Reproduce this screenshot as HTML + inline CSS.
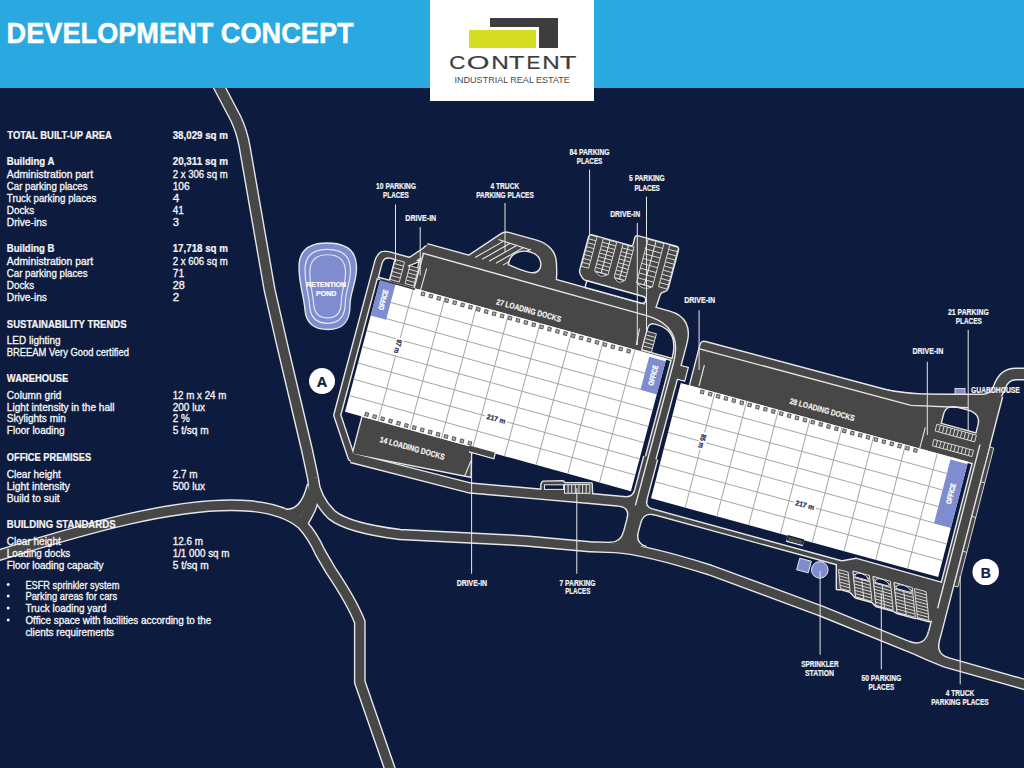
<!DOCTYPE html><html><head><meta charset="utf-8"><title>Development Concept</title>
<style>html,body{margin:0;padding:0;background:#0d1b3e;}body{width:1024px;height:768px;overflow:hidden;}svg{display:block;font-family:"Liberation Sans",sans-serif;}</style></head><body>
<svg width="1024" height="768" viewBox="0 0 1024 768">
<rect x="0" y="0" width="1024" height="768" fill="#0d1b3e"/>
<path d="M423.29,250.25 Q424.58,245.42 429.40,246.76 L671.98,314.29 L683.58,328.94 L680.53,351.96 L677.95,361.62 L413.23,287.91 Z" fill="#474747" stroke="#e6e6e6" stroke-width="2.80" stroke-linejoin="round"/>
<path d="M377.96,257.34 Q379.76,250.58 386.51,252.46 L422.12,262.37 L415.15,288.45 L372.80,276.66 Z" fill="#474747" stroke="#e6e6e6" stroke-width="2.80" stroke-linejoin="round"/>
<path d="M362.50,417.00 L471.10,446.81 L470.40,476.60 L353.00,453.50 Z" fill="#474747" stroke="#e6e6e6" stroke-width="2.80" stroke-linejoin="round"/>
<path d="M466.94,257.21 L501.39,234.15 Q504.72,231.93 508.57,233.00 L536.48,240.77 Q545.15,243.18 550.31,249.03 L550.31,249.03 Q555.47,254.88 555.74,262.87 L555.98,269.74 Q556.12,273.74 555.81,277.72 L555.50,281.87 Z" fill="#474747" stroke="#e6e6e6" stroke-width="2.80" stroke-linejoin="round"/>
<path d="M589.13,237.27 Q589.77,234.86 592.18,235.53 L630.68,246.25 Q633.09,246.92 633.74,244.50 L635.41,238.22 Q636.06,235.81 638.47,236.48 L676.01,246.93 Q678.41,247.60 677.77,250.02 L667.71,287.68 Q667.06,290.10 664.69,290.88 L662.63,291.57 Q660.26,292.35 659.48,294.73 L655.43,307.09 Q654.65,309.47 652.24,308.80 L646.47,307.19 Q644.06,306.52 644.70,304.11 L645.99,299.28 Q646.64,296.86 644.23,296.19 L586.48,280.11 Q584.07,279.44 582.83,277.27 L581.08,274.21 Q579.84,272.04 580.49,269.62 Z" fill="#474747" stroke="#e6e6e6" stroke-width="2.80" stroke-linejoin="round"/>
<path d="M700.54,345.03 Q701.54,341.16 705.40,342.19 L887.54,390.68 Q903.00,394.80 919.00,394.87 L990.00,395.20 L988.92,446.77 L983.93,466.06 L690.07,385.54 Z" fill="#474747" stroke="#e6e6e6" stroke-width="2.80" stroke-linejoin="round"/>
<path d="M837.00,562.50 L856.40,559.00 L949.00,585.00 L942.00,619.50 L929.01,621.03 L917.44,617.85 L915.36,617.88 L897.03,612.85 L893.29,610.62 L875.94,605.85 L872.03,601.87 L855.64,597.37 L850.08,591.55 L840.44,588.90 L837.00,589.00 Z" fill="#474747" stroke="#e6e6e6" stroke-width="2.80" stroke-linejoin="round"/>
<path d="M541.50,490.00 L541.50,484.50 L543.00,481.80 L563.00,481.40 L564.50,483.20 L591.50,483.60 L592.00,494.50 L541.50,491.50 Z" fill="#474747" stroke="#e6e6e6" stroke-width="2.80" stroke-linejoin="round"/>
<path d="M215.5,80 L236,119 Q242,132 244.5,146 L269.6,290 Q282,345 294.5,397 L307,450 L313,478" fill="none" stroke="#e6e6e6" stroke-width="12.20" stroke-linejoin="round" stroke-linecap="butt"/>
<path d="M313,478 Q316,500 332,515 Q348,528 400,534.5 L510,540 L526,541 L590,546.8 L615,547.6 Q645,549.5 710,570 L820,610.6 L917,650 Q930,656 945,662 L1030,686" fill="none" stroke="#e6e6e6" stroke-width="11.40" stroke-linejoin="round" stroke-linecap="butt"/>
<path d="M313,478 Q316,498 309,511 L302,524" fill="none" stroke="#e6e6e6" stroke-width="12.20" stroke-linejoin="round" stroke-linecap="butt"/>
<path d="M-10,558 C80,530 180,500 250,506 C272,508 290,514 302,524 Q313,536 320,552 L330.5,570 Q352,602 359.8,622 L359.8,682 L392,775" fill="none" stroke="#e6e6e6" stroke-width="11.80" stroke-linejoin="round" stroke-linecap="butt"/>
<path d="M427.66,249.38 L410.05,261.09 L389.84,255.46 Q380.60,252.89 378.27,261.58 L337.25,415.15 L351.5,457.7 L470,488 L590,498.5 L634,502.5" fill="none" stroke="#e6e6e6" stroke-width="8.30" stroke-linejoin="round" stroke-linecap="butt"/>
<path d="M425.73,248.85 L668.31,316.39 Q687.09,321.61 681.67,341.90 L626.46,548.59" fill="none" stroke="#e6e6e6" stroke-width="12.40" stroke-linejoin="round" stroke-linecap="butt"/>
<path d="M640.16,508.24 L855.44,567.24" fill="none" stroke="#e6e6e6" stroke-width="6.60" stroke-linejoin="round" stroke-linecap="butt"/>
<path d="M996.38,395.09 L936.03,628.58 L929,655" fill="none" stroke="#e6e6e6" stroke-width="14.30" stroke-linejoin="round" stroke-linecap="butt"/>
<path d="M874.45,393.70 Q908,400.2 935,400.2 L983,400.2 Q995,400 999.5,387 Q1004,374 1016,374 L1030,374" fill="none" stroke="#e6e6e6" stroke-width="13.00" stroke-linejoin="round" stroke-linecap="butt"/>
<path d="M351.5,457.7 L470,488 L590,498.5 L634,502.5" fill="none" stroke="#e6e6e6" stroke-width="11.40" stroke-linejoin="round" stroke-linecap="butt"/>
<path d="M650.71,457.80 L626.46,548.59" fill="none" stroke="#e6e6e6" stroke-width="15.80"/>
<path d="M423.29,250.25 Q424.58,245.42 429.40,246.76 L671.98,314.29 L683.58,328.94 L680.53,351.96 L677.95,361.62 L413.23,287.91 Z" fill="#474747"/>
<path d="M377.96,257.34 Q379.76,250.58 386.51,252.46 L422.12,262.37 L415.15,288.45 L372.80,276.66 Z" fill="#474747"/>
<path d="M362.50,417.00 L471.10,446.81 L470.40,476.60 L353.00,453.50 Z" fill="#474747"/>
<path d="M466.94,257.21 L501.39,234.15 Q504.72,231.93 508.57,233.00 L536.48,240.77 Q545.15,243.18 550.31,249.03 L550.31,249.03 Q555.47,254.88 555.74,262.87 L555.98,269.74 Q556.12,273.74 555.81,277.72 L555.50,281.87 Z" fill="#474747"/>
<path d="M589.13,237.27 Q589.77,234.86 592.18,235.53 L630.68,246.25 Q633.09,246.92 633.74,244.50 L635.41,238.22 Q636.06,235.81 638.47,236.48 L676.01,246.93 Q678.41,247.60 677.77,250.02 L667.71,287.68 Q667.06,290.10 664.69,290.88 L662.63,291.57 Q660.26,292.35 659.48,294.73 L655.43,307.09 Q654.65,309.47 652.24,308.80 L646.47,307.19 Q644.06,306.52 644.70,304.11 L645.99,299.28 Q646.64,296.86 644.23,296.19 L586.48,280.11 Q584.07,279.44 582.83,277.27 L581.08,274.21 Q579.84,272.04 580.49,269.62 Z" fill="#474747"/>
<path d="M700.54,345.03 Q701.54,341.16 705.40,342.19 L887.54,390.68 Q903.00,394.80 919.00,394.87 L990.00,395.20 L988.92,446.77 L983.93,466.06 L690.07,385.54 Z" fill="#474747"/>
<path d="M837.00,562.50 L856.40,559.00 L949.00,585.00 L942.00,619.50 L929.01,621.03 L917.44,617.85 L915.36,617.88 L897.03,612.85 L893.29,610.62 L875.94,605.85 L872.03,601.87 L855.64,597.37 L850.08,591.55 L840.44,588.90 L837.00,589.00 Z" fill="#474747"/>
<path d="M541.50,490.00 L541.50,484.50 L543.00,481.80 L563.00,481.40 L564.50,483.20 L591.50,483.60 L592.00,494.50 L541.50,491.50 Z" fill="#474747"/>
<path d="M215.5,80 L236,119 Q242,132 244.5,146 L269.6,290 Q282,345 294.5,397 L307,450 L313,478" fill="none" stroke="#474747" stroke-width="9.40" stroke-linejoin="round" stroke-linecap="butt"/>
<path d="M313,478 Q316,500 332,515 Q348,528 400,534.5 L510,540 L526,541 L590,546.8 L615,547.6 Q645,549.5 710,570 L820,610.6 L917,650 Q930,656 945,662 L1030,686" fill="none" stroke="#474747" stroke-width="8.60" stroke-linejoin="round" stroke-linecap="butt"/>
<path d="M313,478 Q316,498 309,511 L302,524" fill="none" stroke="#474747" stroke-width="9.40" stroke-linejoin="round" stroke-linecap="butt"/>
<path d="M-10,558 C80,530 180,500 250,506 C272,508 290,514 302,524 Q313,536 320,552 L330.5,570 Q352,602 359.8,622 L359.8,682 L392,775" fill="none" stroke="#474747" stroke-width="9.00" stroke-linejoin="round" stroke-linecap="butt"/>
<path d="M427.66,249.38 L410.05,261.09 L389.84,255.46 Q380.60,252.89 378.27,261.58 L337.25,415.15 L351.5,457.7 L470,488 L590,498.5 L634,502.5" fill="none" stroke="#474747" stroke-width="5.50" stroke-linejoin="round" stroke-linecap="butt"/>
<path d="M425.73,248.85 L668.31,316.39 Q687.09,321.61 681.67,341.90 L626.46,548.59" fill="none" stroke="#474747" stroke-width="9.60" stroke-linejoin="round" stroke-linecap="butt"/>
<path d="M640.16,508.24 L855.44,567.24" fill="none" stroke="#474747" stroke-width="3.80" stroke-linejoin="round" stroke-linecap="butt"/>
<path d="M996.38,395.09 L936.03,628.58 L929,655" fill="none" stroke="#474747" stroke-width="11.50" stroke-linejoin="round" stroke-linecap="butt"/>
<path d="M874.45,393.70 Q908,400.2 935,400.2 L983,400.2 Q995,400 999.5,387 Q1004,374 1016,374 L1030,374" fill="none" stroke="#474747" stroke-width="10.20" stroke-linejoin="round" stroke-linecap="butt"/>
<path d="M351.5,457.7 L470,488 L590,498.5 L634,502.5" fill="none" stroke="#474747" stroke-width="8.60" stroke-linejoin="round" stroke-linecap="butt"/>
<path d="M650.71,457.80 L626.46,548.59" fill="none" stroke="#474747" stroke-width="13"/>
<path d="M422.52,253.14 L645.85,315.32 Q683.39,325.77 673.59,362.48 L635.40,505.42" fill="none" stroke="#e6e6e6" stroke-width="1.40"/>
<line x1="423.48" y1="253.41" x2="414.19" y2="288.18" stroke="#e6e6e6" stroke-width="1.40"/>
<path d="M641.76,349.98 L647.56,328.25 Q649.11,322.46 654.89,324.06 L656.81,324.60 Q679.43,330.90 672.08,358.43 Z" fill="#0d1b3e" stroke="#e6e6e6" stroke-width="1.40"/>
<path d="M681.03,365.59 L688.25,367.60 L684.64,381.12 L677.42,379.11" fill="#474747" stroke="#e6e6e6" stroke-width="1.40"/>
<path d="M678.92,365.73 L687.39,368.08 L684.14,380.25 L675.67,377.90 Z" fill="#474747"/>
<path d="M378.35,277.16 L381.96,263.64 Q383.90,256.40 391.12,258.41 L394.97,259.48 L389.42,280.25 Z" fill="#0d1b3e" stroke="#e6e6e6" stroke-width="1.40"/>
<path d="M408.76,265.92 L419.23,261.57 L416.39,272.19 Z" fill="#0d1b3e" stroke="#e6e6e6" stroke-width="1.40"/>
<line x1="475.15" y1="257.42" x2="503.23" y2="241.37" stroke="#e6e6e6" stroke-width="1.10"/>
<line x1="482.08" y1="259.35" x2="510.16" y2="243.30" stroke="#e6e6e6" stroke-width="1.10"/>
<line x1="489.02" y1="261.28" x2="517.09" y2="245.23" stroke="#e6e6e6" stroke-width="1.10"/>
<line x1="495.95" y1="263.21" x2="524.02" y2="247.16" stroke="#e6e6e6" stroke-width="1.10"/>
<line x1="502.88" y1="265.14" x2="530.95" y2="249.09" stroke="#e6e6e6" stroke-width="1.10"/>
<line x1="498.54" y1="239.55" x2="528.96" y2="249.57" stroke="#e6e6e6" stroke-width="1.10"/>
<path d="M508.40,264.60 C509.57,252.48 520.74,249.36 530.37,252.04 C541.92,255.26 542.23,265.72 539.01,270.01 C535.54,275.27 526.88,272.86 508.40,264.60 Z" fill="#0d1b3e" stroke="#e6e6e6" stroke-width="1.40"/>
<path d="M585.02,287.49 L640.85,303.04 Q644.70,304.11 645.61,300.73 Q646.51,297.35 642.66,296.27 L586.83,280.73 Z" fill="#0d1b3e" stroke="#e6e6e6" stroke-width="1.40"/>
<path d="M395.45,259.61 L404.59,262.16 L399.31,281.96 L390.16,279.41 Z" fill="#474747" stroke="#e6e6e6" stroke-width="0.90"/>
<path d="M394.39,263.57L403.54,266.12M393.33,267.53L402.48,270.08M392.28,271.49L401.42,274.04M391.22,275.45L400.36,278.00" stroke="#e6e6e6" stroke-width="0.90"/>
<path d="M409.85,265.70 L418.52,268.11 L413.75,285.98 L405.08,283.57 Z" fill="#474747" stroke="#e6e6e6" stroke-width="0.90"/>
<path d="M408.90,269.27L417.56,271.69M407.95,272.85L416.61,275.26M406.99,276.42L415.65,278.83M406.04,280.00L414.70,282.41" stroke="#e6e6e6" stroke-width="0.90"/>
<path d="M589.77,234.86 L596.99,236.87 L588.61,268.26 L581.39,266.24 Z" fill="#474747" stroke="#e6e6e6" stroke-width="0.90"/>
<path d="M588.73,238.78L595.95,240.79M587.68,242.70L594.90,244.71M586.63,246.63L593.85,248.64M585.58,250.55L592.80,252.56M584.53,254.47L591.75,256.48M583.49,258.40L590.71,260.41M582.44,262.32L589.66,264.33" stroke="#e6e6e6" stroke-width="0.90"/>
<path d="M603.25,238.61 L609.99,240.48 L601.35,272.84 L594.61,270.96 Z" fill="#474747" stroke="#e6e6e6" stroke-width="0.90"/>
<path d="M602.29,242.20L609.03,244.08M601.33,245.80L608.07,247.67M600.37,249.39L607.11,251.27M599.41,252.99L606.15,254.86M598.45,256.58L605.19,258.46M597.49,260.18L604.23,262.05M596.53,263.77L603.27,265.65M595.57,267.37L602.31,269.24" stroke="#e6e6e6" stroke-width="0.90"/>
<path d="M609.99,240.48 L616.73,242.36 L608.08,274.72 L601.35,272.84 Z" fill="#474747" stroke="#e6e6e6" stroke-width="0.90"/>
<path d="M609.03,244.08L615.77,245.95M608.07,247.67L614.81,249.55M607.11,251.27L613.85,253.14M606.15,254.86L612.89,256.74M605.19,258.46L611.93,260.33M604.23,262.05L610.97,263.93M603.27,265.65L610.01,267.52M602.31,269.24L609.05,271.12" stroke="#e6e6e6" stroke-width="0.90"/>
<path d="M595.44,271.71 Q599.80,278.63 606.99,274.93 Z" fill="#0d1b3e" stroke="#e6e6e6" stroke-width="0.9"/>
<path d="M622.98,244.10 L628.52,245.64 L619.62,278.96 L614.08,277.42 Z" fill="#474747" stroke="#e6e6e6" stroke-width="0.90"/>
<path d="M622.00,247.80L627.53,249.34M621.01,251.51L626.54,253.05M620.02,255.21L625.55,256.75M619.03,258.91L624.56,260.45M618.04,262.61L623.57,264.15M617.05,266.32L622.59,267.86M616.06,270.02L621.60,271.56M615.07,273.72L620.61,275.26" stroke="#e6e6e6" stroke-width="0.90"/>
<path d="M628.52,245.64 L634.05,247.18 L625.15,280.51 L619.62,278.96 Z" fill="#474747" stroke="#e6e6e6" stroke-width="0.90"/>
<path d="M627.53,249.34L633.07,250.89M626.54,253.05L632.08,254.59M625.55,256.75L631.09,258.29M624.56,260.45L630.10,261.99M623.57,264.15L629.11,265.70M622.59,267.86L628.12,269.40M621.60,271.56L627.13,273.10M620.61,275.26L626.14,276.80" stroke="#e6e6e6" stroke-width="0.90"/>
<path d="M614.92,278.17 Q618.07,284.76 624.06,280.72 Z" fill="#0d1b3e" stroke="#e6e6e6" stroke-width="0.9"/>
<path d="M648.09,239.16 L656.03,241.37 L644.42,284.83 L636.48,282.62 Z" fill="#474747" stroke="#e6e6e6" stroke-width="0.90"/>
<path d="M646.80,243.99L654.74,246.20M645.51,248.82L653.45,251.03M644.22,253.65L652.16,255.86M642.93,258.48L650.87,260.69M641.64,263.30L649.58,265.52M640.35,268.13L648.29,270.35M639.06,272.96L647.00,275.17M637.77,277.79L645.71,280.00" stroke="#e6e6e6" stroke-width="0.90"/>
<path d="M656.03,241.37 L663.98,243.58 L652.37,287.04 L644.42,284.83 Z" fill="#474747" stroke="#e6e6e6" stroke-width="0.90"/>
<path d="M654.74,246.20L662.69,248.41M653.45,251.03L661.40,253.24M652.16,255.86L660.11,258.07M650.87,260.69L658.82,262.90M649.58,265.52L657.53,267.73M648.29,270.35L656.24,272.56M647.00,275.17L654.95,277.39M645.71,280.00L653.66,282.21" stroke="#e6e6e6" stroke-width="0.90"/>
<path d="M637.32,283.37 Q642.88,290.63 651.27,287.26 Z" fill="#0d1b3e" stroke="#e6e6e6" stroke-width="0.9"/>
<path d="M669.75,245.19 L678.41,247.60 L667.32,289.13 L658.66,286.72 Z" fill="#474747" stroke="#e6e6e6" stroke-width="0.90"/>
<path d="M668.64,249.34L677.31,251.75M667.53,253.50L676.20,255.91M666.42,257.65L675.09,260.06M665.31,261.80L673.98,264.21M664.20,265.95L672.87,268.37M663.09,270.11L671.76,272.52M661.99,274.26L670.65,276.67M660.88,278.41L669.54,280.83M659.77,282.57L668.43,284.98" stroke="#e6e6e6" stroke-width="0.90"/>
<path d="M646.79,331.15 L656.42,333.83 L651.51,352.18 L641.89,349.50 Z" fill="#474747" stroke="#e6e6e6" stroke-width="0.90"/>
<path d="M645.81,334.82L655.44,337.50M644.83,338.49L654.46,341.17M643.85,342.16L653.47,344.84M642.87,345.83L652.49,348.51" stroke="#e6e6e6" stroke-width="0.90"/>
<path d="M936.85,424.23 L976.43,435.08 L974.68,441.83 L935.10,430.99 Z" fill="#474747" stroke="#e6e6e6" stroke-width="0.90"/>
<path d="M940.45,425.22L938.70,431.97M944.05,426.21L942.30,432.96M947.64,427.19L945.90,433.95M951.24,428.18L949.50,434.93M954.84,429.16L953.10,435.92M958.44,430.15L956.69,436.90M962.04,431.14L960.29,437.89M965.64,432.12L963.89,438.88M969.23,433.11L967.49,439.86M972.83,434.09L971.09,440.85" stroke="#e6e6e6" stroke-width="0.90"/>
<path d="M933.95,439.45 L973.53,450.30 L971.91,456.57 L932.33,445.73 Z" fill="#474747" stroke="#e6e6e6" stroke-width="0.90"/>
<path d="M937.55,440.44L935.93,446.71M941.15,441.43L939.53,447.70M944.74,442.41L943.12,448.68M948.34,443.40L946.72,449.67M951.94,444.38L950.32,450.66M955.54,445.37L953.92,451.64M959.14,446.36L957.52,452.63M962.74,447.34L961.11,453.61M966.33,448.33L964.71,454.60M969.93,449.31L968.31,455.59" stroke="#e6e6e6" stroke-width="0.90"/>
<path d="M941.21,423.36 L943.70,413.71 Q946.20,404.07 959.71,407.77 L967.44,409.89 Q980.95,413.59 977.96,425.17 L975.96,432.89 Z" fill="#0d1b3e" stroke="#e6e6e6" stroke-width="1.40"/>
<path d="M699.54,348.88 L911,405.4 L968,407.8" fill="none" stroke="#e6e6e6" stroke-width="1.40"/>
<line x1="980.03" y1="444.33" x2="937.64" y2="608.36" stroke="#e6e6e6" stroke-width="1.40"/>
<path d="M989.88,447.03 L993.74,448.09 L957.83,587.03 L953.97,585.97 Z" fill="#474747" stroke="#e6e6e6" stroke-width="0.90"/>
<path d="M980.90,481.77L984.77,482.83M971.93,516.50L975.79,517.56M962.95,551.24L966.81,552.29" stroke="#e6e6e6" stroke-width="0.90"/>
<path d="M838.50,569.50 L848.14,572.15 L850.03,591.05 L840.39,588.41 Z" fill="#474747" stroke="#e6e6e6" stroke-width="0.90"/>
<path d="M838.82,572.65L848.46,575.30M839.13,575.80L848.77,578.45M839.45,578.95L849.09,581.60M839.76,582.10L849.40,584.75M840.08,585.25L849.72,587.90" stroke="#e6e6e6" stroke-width="0.90"/>
<path d="M853.00,571.00 L869.39,575.50 L871.98,601.37 L855.59,596.87 Z" fill="#474747" stroke="#e6e6e6" stroke-width="0.90"/>
<path d="M853.32,574.23L869.72,578.73M853.65,577.47L870.04,581.97M853.97,580.70L870.36,585.20M854.29,583.94L870.69,588.44M854.62,587.17L871.01,591.67M854.94,590.40L871.33,594.90M855.26,593.64L871.66,598.14" stroke="#e6e6e6" stroke-width="0.90"/>
<path d="M853.00,571.00 L861.20,573.25 L863.78,599.12 L855.59,596.87 Z" fill="#474747" stroke="#e6e6e6" stroke-width="0.90"/>
<path d="M853.32,574.23L861.52,576.48M853.65,577.47L861.84,579.72M853.97,580.70L862.17,582.95M854.29,583.94L862.49,586.19M854.62,587.17L862.81,589.42M854.94,590.40L863.14,592.65M855.26,593.64L863.46,595.89" stroke="#e6e6e6" stroke-width="0.90"/>
<path d="M854.99,576.87 C854.30,569.90 867.80,573.61 868.49,580.58 Z" fill="#0d1b3e" stroke="#e6e6e6" stroke-width="1"/>
<path d="M873.00,576.50 L890.36,581.26 L893.24,610.12 L875.89,605.36 Z" fill="#474747" stroke="#e6e6e6" stroke-width="0.90"/>
<path d="M873.32,579.71L890.68,584.47M873.64,582.91L891.00,587.68M873.96,586.12L891.32,590.88M874.28,589.32L891.64,594.09M874.60,592.53L891.96,597.30M874.92,595.74L892.28,600.50M875.24,598.94L892.60,603.71M875.56,602.15L892.92,606.91" stroke="#e6e6e6" stroke-width="0.90"/>
<path d="M873.00,576.50 L881.68,578.88 L884.56,607.74 L875.89,605.36 Z" fill="#474747" stroke="#e6e6e6" stroke-width="0.90"/>
<path d="M873.32,579.71L882.00,582.09M873.64,582.91L882.32,585.29M873.96,586.12L882.64,588.50M874.28,589.32L882.96,591.71M874.60,592.53L883.28,594.91M874.92,595.74L883.60,598.12M875.24,598.94L883.92,601.33M875.56,602.15L884.24,604.53" stroke="#e6e6e6" stroke-width="0.90"/>
<path d="M874.99,582.37 C874.30,575.40 888.76,579.38 889.46,586.34 Z" fill="#0d1b3e" stroke="#e6e6e6" stroke-width="1"/>
<path d="M894.00,582.50 L912.32,587.53 L915.31,617.38 L896.99,612.35 Z" fill="#474747" stroke="#e6e6e6" stroke-width="0.90"/>
<path d="M894.33,585.82L912.65,590.85M894.66,589.13L912.99,594.16M895.00,592.45L913.32,597.48M895.33,595.77L913.65,600.80M895.66,599.08L913.98,604.11M895.99,602.40L914.31,607.43M896.32,605.72L914.64,610.75M896.65,609.03L914.98,614.06" stroke="#e6e6e6" stroke-width="0.90"/>
<path d="M894.00,582.50 L903.16,585.01 L906.15,614.87 L896.99,612.35 Z" fill="#474747" stroke="#e6e6e6" stroke-width="0.90"/>
<path d="M894.33,585.82L903.49,588.33M894.66,589.13L903.82,591.65M895.00,592.45L904.16,594.97M895.33,595.77L904.49,598.28M895.66,599.08L904.82,601.60M895.99,602.40L905.15,604.92M896.32,605.72L905.48,608.23M896.65,609.03L905.81,611.55" stroke="#e6e6e6" stroke-width="0.90"/>
<path d="M895.99,588.37 C895.30,581.40 910.73,585.64 911.42,592.61 Z" fill="#0d1b3e" stroke="#e6e6e6" stroke-width="1"/>
<path d="M914.50,588.50 L926.07,591.68 L928.96,620.53 L917.39,617.36 Z" fill="#474747" stroke="#e6e6e6" stroke-width="0.90"/>
<path d="M914.82,591.71L926.39,594.88M915.14,594.91L926.71,598.09M915.46,598.12L927.03,601.30M915.78,601.32L927.35,604.50M916.10,604.53L927.68,607.71M916.42,607.74L928.00,610.91M916.74,610.94L928.32,614.12M917.06,614.15L928.64,617.33" stroke="#e6e6e6" stroke-width="0.90"/>
<rect x="544.5" y="484.8" width="19" height="4.6" fill="#0d1b3e" stroke="#e6e6e6" stroke-width="1"/>
<rect x="564.5" y="484.6" width="25.3" height="8.7" fill="#474747" stroke="#e6e6e6" stroke-width="1"/>
<path d="M568.1,484.6V493.3M571.7,484.6V493.3M575.3,484.6V493.3M579.0,484.6V493.3M582.6,484.6V493.3M586.2,484.6V493.3" stroke="#e6e6e6" stroke-width="1"/>
<rect x="955" y="388.5" width="10" height="5.5" fill="#7f8dd0" stroke="#e6e6e6" stroke-width="0.9"/>
<rect x="798" y="559.5" width="12" height="12" transform="rotate(15 804 565.5)" fill="#7f8dd0" stroke="#e6e6e6" stroke-width="0.9"/>
<circle cx="819.8" cy="569.9" r="8.3" fill="#7f8dd0" stroke="#e6e6e6" stroke-width="1"/>
<g transform="matrix(0.96263,0.26801,-0.25799,0.96584,380.50,278.80)">
<rect x="0" y="0" width="297.0" height="137.6" fill="#ffffff"/>
<path d="M34.4,0V137.6M67.2,0V137.6M100.1,0V137.6M132.9,0V137.6M165.8,0V137.6M198.6,0V137.6M231.5,0V137.6M264.3,0V137.6M0,20.0H297.0M0,36.8H297.0M0,53.6H297.0M0,70.4H297.0M0,87.2H297.0M0,104.0H297.0M0,120.8H297.0" stroke="#a3a3a3" stroke-width="0.9" fill="none"/>
<rect x="0" y="0" width="16" height="38" fill="#7f8dd0"/>
<rect x="280" y="3" width="17" height="34" fill="#7f8dd0"/>
<path d="M0,0.8H36" stroke="#333" stroke-width="1.6"/>
<rect x="43.4" y="1.6" width="3.2" height="3.2" fill="#b0b0b0" stroke="#5a5a5a" stroke-width="1"/>
<rect x="51.6" y="1.6" width="3.2" height="3.2" fill="#b0b0b0" stroke="#5a5a5a" stroke-width="1"/>
<rect x="59.8" y="1.6" width="3.2" height="3.2" fill="#b0b0b0" stroke="#5a5a5a" stroke-width="1"/>
<rect x="68.0" y="1.6" width="3.2" height="3.2" fill="#b0b0b0" stroke="#5a5a5a" stroke-width="1"/>
<rect x="76.3" y="1.6" width="3.2" height="3.2" fill="#b0b0b0" stroke="#5a5a5a" stroke-width="1"/>
<rect x="84.5" y="1.6" width="3.2" height="3.2" fill="#b0b0b0" stroke="#5a5a5a" stroke-width="1"/>
<rect x="92.7" y="1.6" width="3.2" height="3.2" fill="#b0b0b0" stroke="#5a5a5a" stroke-width="1"/>
<rect x="100.9" y="1.6" width="3.2" height="3.2" fill="#b0b0b0" stroke="#5a5a5a" stroke-width="1"/>
<rect x="109.1" y="1.6" width="3.2" height="3.2" fill="#b0b0b0" stroke="#5a5a5a" stroke-width="1"/>
<rect x="117.3" y="1.6" width="3.2" height="3.2" fill="#b0b0b0" stroke="#5a5a5a" stroke-width="1"/>
<rect x="125.6" y="1.6" width="3.2" height="3.2" fill="#b0b0b0" stroke="#5a5a5a" stroke-width="1"/>
<rect x="133.8" y="1.6" width="3.2" height="3.2" fill="#b0b0b0" stroke="#5a5a5a" stroke-width="1"/>
<rect x="142.0" y="1.6" width="3.2" height="3.2" fill="#b0b0b0" stroke="#5a5a5a" stroke-width="1"/>
<rect x="150.2" y="1.6" width="3.2" height="3.2" fill="#b0b0b0" stroke="#5a5a5a" stroke-width="1"/>
<rect x="158.4" y="1.6" width="3.2" height="3.2" fill="#b0b0b0" stroke="#5a5a5a" stroke-width="1"/>
<rect x="166.6" y="1.6" width="3.2" height="3.2" fill="#b0b0b0" stroke="#5a5a5a" stroke-width="1"/>
<rect x="174.8" y="1.6" width="3.2" height="3.2" fill="#b0b0b0" stroke="#5a5a5a" stroke-width="1"/>
<rect x="183.1" y="1.6" width="3.2" height="3.2" fill="#b0b0b0" stroke="#5a5a5a" stroke-width="1"/>
<rect x="191.3" y="1.6" width="3.2" height="3.2" fill="#b0b0b0" stroke="#5a5a5a" stroke-width="1"/>
<rect x="199.5" y="1.6" width="3.2" height="3.2" fill="#b0b0b0" stroke="#5a5a5a" stroke-width="1"/>
<rect x="207.7" y="1.6" width="3.2" height="3.2" fill="#b0b0b0" stroke="#5a5a5a" stroke-width="1"/>
<rect x="215.9" y="1.6" width="3.2" height="3.2" fill="#b0b0b0" stroke="#5a5a5a" stroke-width="1"/>
<rect x="224.1" y="1.6" width="3.2" height="3.2" fill="#b0b0b0" stroke="#5a5a5a" stroke-width="1"/>
<rect x="232.4" y="1.6" width="3.2" height="3.2" fill="#b0b0b0" stroke="#5a5a5a" stroke-width="1"/>
<rect x="240.6" y="1.6" width="3.2" height="3.2" fill="#b0b0b0" stroke="#5a5a5a" stroke-width="1"/>
<rect x="248.8" y="1.6" width="3.2" height="3.2" fill="#b0b0b0" stroke="#5a5a5a" stroke-width="1"/>
<rect x="257.0" y="1.6" width="3.2" height="3.2" fill="#b0b0b0" stroke="#5a5a5a" stroke-width="1"/>
<rect x="20.1" y="132.8" width="3.2" height="3.2" fill="#b0b0b0" stroke="#5a5a5a" stroke-width="1"/>
<rect x="28.3" y="132.8" width="3.2" height="3.2" fill="#b0b0b0" stroke="#5a5a5a" stroke-width="1"/>
<rect x="36.6" y="132.8" width="3.2" height="3.2" fill="#b0b0b0" stroke="#5a5a5a" stroke-width="1"/>
<rect x="44.8" y="132.8" width="3.2" height="3.2" fill="#b0b0b0" stroke="#5a5a5a" stroke-width="1"/>
<rect x="53.1" y="132.8" width="3.2" height="3.2" fill="#b0b0b0" stroke="#5a5a5a" stroke-width="1"/>
<rect x="61.3" y="132.8" width="3.2" height="3.2" fill="#b0b0b0" stroke="#5a5a5a" stroke-width="1"/>
<rect x="69.5" y="132.8" width="3.2" height="3.2" fill="#b0b0b0" stroke="#5a5a5a" stroke-width="1"/>
<rect x="77.8" y="132.8" width="3.2" height="3.2" fill="#b0b0b0" stroke="#5a5a5a" stroke-width="1"/>
<rect x="86.0" y="132.8" width="3.2" height="3.2" fill="#b0b0b0" stroke="#5a5a5a" stroke-width="1"/>
<rect x="94.2" y="132.8" width="3.2" height="3.2" fill="#b0b0b0" stroke="#5a5a5a" stroke-width="1"/>
<rect x="102.5" y="132.8" width="3.2" height="3.2" fill="#b0b0b0" stroke="#5a5a5a" stroke-width="1"/>
<rect x="110.7" y="132.8" width="3.2" height="3.2" fill="#b0b0b0" stroke="#5a5a5a" stroke-width="1"/>
<rect x="119.0" y="132.8" width="3.2" height="3.2" fill="#b0b0b0" stroke="#5a5a5a" stroke-width="1"/>
<rect x="127.2" y="132.8" width="3.2" height="3.2" fill="#b0b0b0" stroke="#5a5a5a" stroke-width="1"/>
<text x="8.00" y="19.50" font-size="7.40" font-weight="bold" fill="#ffffff" textLength="20.50" lengthAdjust="spacingAndGlyphs" stroke="#ffffff" stroke-width="0.35" transform="rotate(-90 8 19.5)" text-anchor="middle" dy="2.7">OFFICE</text>
<text x="288.50" y="20.00" font-size="7.40" font-weight="bold" fill="#ffffff" textLength="20.50" lengthAdjust="spacingAndGlyphs" stroke="#ffffff" stroke-width="0.35" transform="rotate(-90 288.5 20)" text-anchor="middle" dy="2.7">OFFICE</text>
</g>
<g transform="matrix(0.96538,0.26454,-0.24937,0.96485,680.80,383.00)">
<rect x="0" y="0" width="297.5" height="119.5" fill="#ffffff"/>
<path d="M35.4,0V119.5M68.3,0V119.5M101.2,0V119.5M134.1,0V119.5M167.0,0V119.5M199.9,0V119.5M232.8,0V119.5M265.7,0V119.5M0,17.0H297.5M0,34.1H297.5M0,51.2H297.5M0,68.2H297.5M0,85.3H297.5M0,102.4H297.5" stroke="#a3a3a3" stroke-width="0.9" fill="none"/>
<rect x="280" y="2.5" width="17.5" height="66" fill="#7f8dd0"/>
<rect x="21.4" y="1.4" width="3.2" height="3.2" fill="#b0b0b0" stroke="#5a5a5a" stroke-width="1"/>
<rect x="29.6" y="1.4" width="3.2" height="3.2" fill="#b0b0b0" stroke="#5a5a5a" stroke-width="1"/>
<rect x="37.8" y="1.4" width="3.2" height="3.2" fill="#b0b0b0" stroke="#5a5a5a" stroke-width="1"/>
<rect x="45.9" y="1.4" width="3.2" height="3.2" fill="#b0b0b0" stroke="#5a5a5a" stroke-width="1"/>
<rect x="54.1" y="1.4" width="3.2" height="3.2" fill="#b0b0b0" stroke="#5a5a5a" stroke-width="1"/>
<rect x="62.3" y="1.4" width="3.2" height="3.2" fill="#b0b0b0" stroke="#5a5a5a" stroke-width="1"/>
<rect x="70.5" y="1.4" width="3.2" height="3.2" fill="#b0b0b0" stroke="#5a5a5a" stroke-width="1"/>
<rect x="78.6" y="1.4" width="3.2" height="3.2" fill="#b0b0b0" stroke="#5a5a5a" stroke-width="1"/>
<rect x="86.8" y="1.4" width="3.2" height="3.2" fill="#b0b0b0" stroke="#5a5a5a" stroke-width="1"/>
<rect x="95.0" y="1.4" width="3.2" height="3.2" fill="#b0b0b0" stroke="#5a5a5a" stroke-width="1"/>
<rect x="103.2" y="1.4" width="3.2" height="3.2" fill="#b0b0b0" stroke="#5a5a5a" stroke-width="1"/>
<rect x="111.4" y="1.4" width="3.2" height="3.2" fill="#b0b0b0" stroke="#5a5a5a" stroke-width="1"/>
<rect x="119.5" y="1.4" width="3.2" height="3.2" fill="#b0b0b0" stroke="#5a5a5a" stroke-width="1"/>
<rect x="127.7" y="1.4" width="3.2" height="3.2" fill="#b0b0b0" stroke="#5a5a5a" stroke-width="1"/>
<rect x="135.9" y="1.4" width="3.2" height="3.2" fill="#b0b0b0" stroke="#5a5a5a" stroke-width="1"/>
<rect x="144.1" y="1.4" width="3.2" height="3.2" fill="#b0b0b0" stroke="#5a5a5a" stroke-width="1"/>
<rect x="152.2" y="1.4" width="3.2" height="3.2" fill="#b0b0b0" stroke="#5a5a5a" stroke-width="1"/>
<rect x="160.4" y="1.4" width="3.2" height="3.2" fill="#b0b0b0" stroke="#5a5a5a" stroke-width="1"/>
<rect x="168.6" y="1.4" width="3.2" height="3.2" fill="#b0b0b0" stroke="#5a5a5a" stroke-width="1"/>
<rect x="176.8" y="1.4" width="3.2" height="3.2" fill="#b0b0b0" stroke="#5a5a5a" stroke-width="1"/>
<rect x="185.0" y="1.4" width="3.2" height="3.2" fill="#b0b0b0" stroke="#5a5a5a" stroke-width="1"/>
<rect x="193.1" y="1.4" width="3.2" height="3.2" fill="#b0b0b0" stroke="#5a5a5a" stroke-width="1"/>
<rect x="201.3" y="1.4" width="3.2" height="3.2" fill="#b0b0b0" stroke="#5a5a5a" stroke-width="1"/>
<rect x="209.5" y="1.4" width="3.2" height="3.2" fill="#b0b0b0" stroke="#5a5a5a" stroke-width="1"/>
<rect x="217.7" y="1.4" width="3.2" height="3.2" fill="#b0b0b0" stroke="#5a5a5a" stroke-width="1"/>
<rect x="225.8" y="1.4" width="3.2" height="3.2" fill="#b0b0b0" stroke="#5a5a5a" stroke-width="1"/>
<rect x="234.0" y="1.4" width="3.2" height="3.2" fill="#b0b0b0" stroke="#5a5a5a" stroke-width="1"/>
<rect x="242.2" y="1.4" width="3.2" height="3.2" fill="#b0b0b0" stroke="#5a5a5a" stroke-width="1"/>
<text x="288.80" y="35.60" font-size="7.40" font-weight="bold" fill="#ffffff" textLength="21.00" lengthAdjust="spacingAndGlyphs" stroke="#ffffff" stroke-width="0.35" transform="rotate(-90 288.8 35.6)" text-anchor="middle" dy="2.7">OFFICE</text>
</g>
<g transform="matrix(0.96263,0.26801,-0.25799,0.96584,380.50,278.80)"><text x="118.00" y="-6.50" font-size="8.20" font-weight="bold" fill="#f2f2f2" textLength="67.00" lengthAdjust="spacingAndGlyphs" stroke="#f2f2f2" stroke-width="0.22">27 LOADING DOCKS</text></g>
<g transform="matrix(0.96263,0.26801,-0.25799,0.96584,380.50,278.80)"><text x="41.00" y="157.50" font-size="8.20" font-weight="bold" fill="#f2f2f2" textLength="67.00" lengthAdjust="spacingAndGlyphs" stroke="#f2f2f2" stroke-width="0.22">14 LOADING DOCKS</text></g>
<g transform="matrix(0.96538,0.26454,-0.24937,0.96485,680.80,383.00)"><text x="110.00" y="-9.00" font-size="8.20" font-weight="bold" fill="#f2f2f2" textLength="67.00" lengthAdjust="spacingAndGlyphs" stroke="#f2f2f2" stroke-width="0.22">28 LOADING DOCKS</text></g>
<g transform="matrix(0.96263,0.26801,-0.25799,0.96584,380.50,278.80) translate(34.35,60.50) rotate(90.0)"><rect x="-9.00" y="-4" width="18.00" height="8" fill="#ffffff"/><text x="0.00" y="2.50" font-size="7.20" font-weight="bold" fill="#1b2650" textLength="14.00" lengthAdjust="spacingAndGlyphs" text-anchor="middle" stroke="#1b2650" stroke-width="0.22">97 m</text></g>
<g transform="matrix(0.96263,0.26801,-0.25799,0.96584,380.50,278.80) translate(148.00,104.00) rotate(0.0)"><rect x="-11.50" y="-4" width="23.00" height="8" fill="#ffffff"/><text x="0.00" y="2.50" font-size="7.20" font-weight="bold" fill="#1b2650" textLength="19.00" lengthAdjust="spacingAndGlyphs" text-anchor="middle" stroke="#1b2650" stroke-width="0.22">217 m</text></g>
<g transform="matrix(0.96538,0.26454,-0.24937,0.96485,680.80,383.00) translate(35.40,50.50) rotate(90.0)"><rect x="-9.00" y="-4" width="18.00" height="8" fill="#ffffff"/><text x="0.00" y="2.50" font-size="7.20" font-weight="bold" fill="#1b2650" textLength="14.00" lengthAdjust="spacingAndGlyphs" text-anchor="middle" stroke="#1b2650" stroke-width="0.22">85 m</text></g>
<g transform="matrix(0.96538,0.26454,-0.24937,0.96485,680.80,383.00) translate(150.60,85.30) rotate(0.0)"><rect x="-11.50" y="-4" width="23.00" height="8" fill="#ffffff"/><text x="0.00" y="2.50" font-size="7.20" font-weight="bold" fill="#1b2650" textLength="19.00" lengthAdjust="spacingAndGlyphs" text-anchor="middle" stroke="#1b2650" stroke-width="0.22">217 m</text></g>
<path d="M909.01,640.60 L908.33,642.27 L925.04,649.05 L929.69,631.62 L927.95,631.16 Q923.83,646.62 909.01,640.60 Z" fill="#474747"/>
<path d="M908.74,641.25 Q924.30,647.57 928.62,631.34" fill="none" stroke="#e6e6e6" stroke-width="1.40"/>
<path d="M940.08,641.18 L938.34,640.72 L934.50,655.01 L948.76,659.01 L949.24,657.28 Q936.73,653.74 940.08,641.18 Z" fill="#474747"/>
<path d="M939.40,641.00 Q935.88,654.23 949.05,657.95" fill="none" stroke="#e6e6e6" stroke-width="1.40"/>
<path d="M633.97,489.85 L635.71,490.31 L633.56,498.60 L625.03,497.77 L625.19,495.98 Q632.16,496.61 633.97,489.85 Z" fill="#474747"/>
<path d="M634.65,490.03 Q632.69,497.36 625.13,496.67" fill="none" stroke="#e6e6e6" stroke-width="1.40"/>
<path d="M647.71,499.63 L645.97,499.17 L643.67,507.68 L652.18,509.98 L652.65,508.25 Q645.90,506.40 647.71,499.63 Z" fill="#474747"/>
<path d="M647.03,499.45 Q645.05,506.89 652.47,508.92" fill="none" stroke="#e6e6e6" stroke-width="1.40"/>
<path d="M626.34,518.41 L628.08,518.88 L631.45,506.20 L618.39,505.00 L618.22,506.79 Q629.18,507.79 626.34,518.41 Z" fill="#474747"/>
<path d="M627.02,518.59 Q630.07,507.16 618.29,506.09" fill="none" stroke="#e6e6e6" stroke-width="1.40"/>
<path d="M622.86,531.43 L624.60,531.89 L621.45,543.97 L608.97,543.51 L609.03,541.71 Q620.02,542.06 622.86,531.43 Z" fill="#474747"/>
<path d="M623.54,531.61 Q620.56,542.78 609.01,542.41" fill="none" stroke="#e6e6e6" stroke-width="1.40"/>
<path d="M641.36,523.40 L639.62,522.94 L642.91,510.53 L655.28,513.94 L654.81,515.68 Q644.20,512.77 641.36,523.40 Z" fill="#474747"/>
<path d="M640.69,523.22 Q643.71,511.91 654.99,515.01" fill="none" stroke="#e6e6e6" stroke-width="1.40"/>
<path d="M639.03,532.14 L637.29,531.68 L633.96,544.03 L646.26,547.55 L646.76,545.82 Q636.19,542.77 639.03,532.14 Z" fill="#474747"/>
<path d="M638.35,531.96 Q635.33,543.25 646.56,546.49" fill="none" stroke="#e6e6e6" stroke-width="1.40"/>
<path d="M284.5,508.6 L296,524 L311,500 L309.8,493 L307.8,483.5 Q301.5,510 284.5,508.6 Z" fill="#474747"/>
<path d="M285.5,509.2 Q300.8,510.8 307.4,484" fill="none" stroke="#e6e6e6" stroke-width="1.40"/>
<line x1="426.70" y1="268.40" x2="420.60" y2="290.00" stroke="#e6e6e6" stroke-width="1.10"/>
<line x1="639.60" y1="328.50" x2="636.20" y2="345.00" stroke="#e6e6e6" stroke-width="1.10"/>
<line x1="704.40" y1="365.00" x2="699.00" y2="386.00" stroke="#e6e6e6" stroke-width="1.10"/>
<line x1="925.30" y1="427.30" x2="919.80" y2="448.40" stroke="#e6e6e6" stroke-width="1.10"/>
<line x1="470.90" y1="461.00" x2="464.60" y2="476.20" stroke="#e6e6e6" stroke-width="1.10"/>
<path d="M788.08,535.86 L803.53,540.10 L802.16,545.40 L786.71,541.17 Z" fill="#474747" stroke="#e6e6e6" stroke-width="1.40"/>
<path d="M787.78,535.06 L804.19,539.55 L802.82,544.86 L786.40,540.36 Z" fill="#0d1b3e"/>
<path d="M788.87,536.80 L802.39,540.51 L801.37,544.46 L787.85,540.76 Z" fill="#474747"/>
<path d="M471.10,446.81 L495.17,453.51 L493.78,458.73 L469.71,452.03 Z" fill="#474747" stroke="#e6e6e6" stroke-width="1.40"/>
<path d="M469.39,445.50 L494.70,452.55 L493.28,457.86 L467.97,450.81 Z" fill="#474747"/>
<path d="M632.8,543.6 L641.2,545.0 L640.6,548.0 L632.8,546.8 Z" fill="#474747"/>
<path d="M327,243 C345,243 356,250 356.5,266 C357,282 350,292 350,305 C350,322 343,329.5 328,329.5 C313,329.5 306,322 305,310 C304,296 299,285 299,267 C299,250 310,243 327,243 Z" fill="#7f8dd0" stroke="#e6e6e6" stroke-width="1.4"/>
<path d="M327,243 C345,243 356,250 356.5,266 C357,282 350,292 350,305 C350,322 343,329.5 328,329.5 C313,329.5 306,322 305,310 C304,296 299,285 299,267 C299,250 310,243 327,243 Z" fill="none" stroke="#e6e6e6" stroke-width="1.2" vector-effect="non-scaling-stroke" transform="translate(327.6,286.6) scale(0.790,0.855) translate(-327.6,-286.6)"/>
<path d="M327,243 C345,243 356,250 356.5,266 C357,282 350,292 350,305 C350,322 343,329.5 328,329.5 C313,329.5 306,322 305,310 C304,296 299,285 299,267 C299,250 310,243 327,243 Z" fill="none" stroke="#e6e6e6" stroke-width="1.2" vector-effect="non-scaling-stroke" transform="translate(327.6,286.6) scale(0.620,0.730) translate(-327.6,-286.6)"/>
<text x="326.20" y="287.10" font-size="7.40" font-weight="bold" fill="#ffffff" textLength="39.70" lengthAdjust="spacingAndGlyphs" text-anchor="middle" stroke="#ffffff" stroke-width="0.22">RETENTION</text>
<text x="326.20" y="296.00" font-size="7.40" font-weight="bold" fill="#ffffff" textLength="20.30" lengthAdjust="spacingAndGlyphs" text-anchor="middle" stroke="#ffffff" stroke-width="0.22">POND</text>
<circle cx="322" cy="381.1" r="13" fill="#ffffff"/>
<text x="322.10" y="386.60" font-size="14.50" font-weight="bold" fill="#0d1b3e" text-anchor="middle" stroke="#0d1b3e" stroke-width="0.22">A</text>
<circle cx="985.7" cy="571.9" r="13.2" fill="#ffffff"/>
<text x="985.70" y="577.70" font-size="14.00" font-weight="bold" fill="#0d1b3e" text-anchor="middle" stroke="#0d1b3e" stroke-width="0.22">B</text>
<line x1="395.5" y1="204.5" x2="395.5" y2="262.0" stroke="#e6e6e6" stroke-width="1"/>
<line x1="420.2" y1="227.0" x2="420.2" y2="275.4" stroke="#e6e6e6" stroke-width="1"/>
<line x1="505.0" y1="203.0" x2="505.0" y2="251.6" stroke="#e6e6e6" stroke-width="1"/>
<line x1="589.6" y1="169.7" x2="589.6" y2="236.0" stroke="#e6e6e6" stroke-width="1"/>
<line x1="646.5" y1="196.6" x2="646.5" y2="333.0" stroke="#e6e6e6" stroke-width="1"/>
<line x1="637.3" y1="223.0" x2="637.3" y2="345.0" stroke="#e6e6e6" stroke-width="1"/>
<line x1="699.1" y1="310.2" x2="699.1" y2="370.0" stroke="#e6e6e6" stroke-width="1"/>
<line x1="968.2" y1="329.8" x2="968.2" y2="431.0" stroke="#e6e6e6" stroke-width="1"/>
<line x1="927.3" y1="361.8" x2="927.3" y2="435.0" stroke="#e6e6e6" stroke-width="1"/>
<line x1="471.6" y1="461.0" x2="471.6" y2="573.7" stroke="#e6e6e6" stroke-width="1"/>
<line x1="576.8" y1="488.0" x2="576.8" y2="573.7" stroke="#e6e6e6" stroke-width="1"/>
<line x1="820.1" y1="571.0" x2="820.1" y2="654.7" stroke="#e6e6e6" stroke-width="1"/>
<line x1="881.3" y1="593.0" x2="881.3" y2="669.4" stroke="#e6e6e6" stroke-width="1"/>
<line x1="960.2" y1="576.0" x2="960.2" y2="684.4" stroke="#e6e6e6" stroke-width="1"/>
<text x="376.00" y="188.80" font-size="8.30" font-weight="bold" fill="#f2f2f2" textLength="40.00" lengthAdjust="spacingAndGlyphs" stroke="#f2f2f2" stroke-width="0.22">10 PARKING</text>
<text x="383.00" y="197.80" font-size="8.30" font-weight="bold" fill="#f2f2f2" textLength="25.80" lengthAdjust="spacingAndGlyphs" stroke="#f2f2f2" stroke-width="0.22">PLACES</text>
<text x="405.30" y="220.50" font-size="8.30" font-weight="bold" fill="#f2f2f2" textLength="30.90" lengthAdjust="spacingAndGlyphs" stroke="#f2f2f2" stroke-width="0.22">DRIVE-IN</text>
<text x="490.50" y="188.80" font-size="8.30" font-weight="bold" fill="#f2f2f2" textLength="28.70" lengthAdjust="spacingAndGlyphs" stroke="#f2f2f2" stroke-width="0.22">4 TRUCK</text>
<text x="476.20" y="197.80" font-size="8.30" font-weight="bold" fill="#f2f2f2" textLength="57.60" lengthAdjust="spacingAndGlyphs" stroke="#f2f2f2" stroke-width="0.22">PARKING PLACES</text>
<text x="569.50" y="155.20" font-size="8.30" font-weight="bold" fill="#f2f2f2" textLength="40.10" lengthAdjust="spacingAndGlyphs" stroke="#f2f2f2" stroke-width="0.22">84 PARKING</text>
<text x="576.80" y="164.40" font-size="8.30" font-weight="bold" fill="#f2f2f2" textLength="25.50" lengthAdjust="spacingAndGlyphs" stroke="#f2f2f2" stroke-width="0.22">PLACES</text>
<text x="629.10" y="180.60" font-size="8.30" font-weight="bold" fill="#f2f2f2" textLength="35.70" lengthAdjust="spacingAndGlyphs" stroke="#f2f2f2" stroke-width="0.22">5 PARKING</text>
<text x="634.40" y="190.80" font-size="8.30" font-weight="bold" fill="#f2f2f2" textLength="25.40" lengthAdjust="spacingAndGlyphs" stroke="#f2f2f2" stroke-width="0.22">PLACES</text>
<text x="610.20" y="216.60" font-size="8.30" font-weight="bold" fill="#f2f2f2" textLength="30.00" lengthAdjust="spacingAndGlyphs" stroke="#f2f2f2" stroke-width="0.22">DRIVE-IN</text>
<text x="684.20" y="303.10" font-size="8.30" font-weight="bold" fill="#f2f2f2" textLength="30.90" lengthAdjust="spacingAndGlyphs" stroke="#f2f2f2" stroke-width="0.22">DRIVE-IN</text>
<text x="948.00" y="314.80" font-size="8.30" font-weight="bold" fill="#f2f2f2" textLength="40.80" lengthAdjust="spacingAndGlyphs" stroke="#f2f2f2" stroke-width="0.22">21 PARKING</text>
<text x="955.80" y="324.40" font-size="8.30" font-weight="bold" fill="#f2f2f2" textLength="25.90" lengthAdjust="spacingAndGlyphs" stroke="#f2f2f2" stroke-width="0.22">PLACES</text>
<text x="912.40" y="354.00" font-size="8.30" font-weight="bold" fill="#f2f2f2" textLength="30.90" lengthAdjust="spacingAndGlyphs" stroke="#f2f2f2" stroke-width="0.22">DRIVE-IN</text>
<text x="971.00" y="393.00" font-size="8.30" font-weight="bold" fill="#f2f2f2" textLength="48.80" lengthAdjust="spacingAndGlyphs" stroke="#f2f2f2" stroke-width="0.22">GUARDHOUSE</text>
<text x="456.70" y="585.50" font-size="8.30" font-weight="bold" fill="#f2f2f2" textLength="30.40" lengthAdjust="spacingAndGlyphs" stroke="#f2f2f2" stroke-width="0.22">DRIVE-IN</text>
<text x="559.50" y="585.50" font-size="8.30" font-weight="bold" fill="#f2f2f2" textLength="36.10" lengthAdjust="spacingAndGlyphs" stroke="#f2f2f2" stroke-width="0.22">7 PARKING</text>
<text x="565.20" y="594.30" font-size="8.30" font-weight="bold" fill="#f2f2f2" textLength="25.10" lengthAdjust="spacingAndGlyphs" stroke="#f2f2f2" stroke-width="0.22">PLACES</text>
<text x="801.20" y="667.20" font-size="8.30" font-weight="bold" fill="#f2f2f2" textLength="37.40" lengthAdjust="spacingAndGlyphs" stroke="#f2f2f2" stroke-width="0.22">SPRINKLER</text>
<text x="805.00" y="676.20" font-size="8.30" font-weight="bold" fill="#f2f2f2" textLength="29.00" lengthAdjust="spacingAndGlyphs" stroke="#f2f2f2" stroke-width="0.22">STATION</text>
<text x="861.50" y="681.20" font-size="8.30" font-weight="bold" fill="#f2f2f2" textLength="39.80" lengthAdjust="spacingAndGlyphs" stroke="#f2f2f2" stroke-width="0.22">50 PARKING</text>
<text x="868.40" y="690.00" font-size="8.30" font-weight="bold" fill="#f2f2f2" textLength="25.80" lengthAdjust="spacingAndGlyphs" stroke="#f2f2f2" stroke-width="0.22">PLACES</text>
<text x="945.80" y="695.50" font-size="8.30" font-weight="bold" fill="#f2f2f2" textLength="28.50" lengthAdjust="spacingAndGlyphs" stroke="#f2f2f2" stroke-width="0.22">4 TRUCK</text>
<text x="931.20" y="704.80" font-size="8.30" font-weight="bold" fill="#f2f2f2" textLength="57.50" lengthAdjust="spacingAndGlyphs" stroke="#f2f2f2" stroke-width="0.22">PARKING PLACES</text>
<rect x="0" y="0" width="1024" height="88" fill="#2aa8e0"/>
<text x="6.60" y="42.60" font-size="30.20" font-weight="bold" fill="#ffffff" textLength="347.00" lengthAdjust="spacingAndGlyphs" stroke="#ffffff" stroke-width="0.50">DEVELOPMENT CONCEPT</text>
<rect x="430" y="0" width="164" height="101" fill="#ffffff"/>
<rect x="490" y="18" width="68" height="30" fill="#3d3d3f"/>
<rect x="469" y="27" width="70" height="21" fill="#ffffff"/>
<rect x="469" y="30" width="67" height="18" fill="#d5de23"/>
<text x="449.20" y="69.40" font-size="19.20" fill="#3d3d3f" textLength="16.10" lengthAdjust="spacingAndGlyphs" stroke="#3d3d3f" stroke-width="0.20">C</text>
<text x="466.70" y="69.40" font-size="19.20" fill="#3d3d3f" textLength="22.70" lengthAdjust="spacingAndGlyphs" stroke="#3d3d3f" stroke-width="0.20">O</text>
<text x="491.20" y="69.40" font-size="19.20" fill="#3d3d3f" textLength="17.60" lengthAdjust="spacingAndGlyphs" stroke="#3d3d3f" stroke-width="0.20">N</text>
<text x="508.80" y="69.40" font-size="19.20" fill="#3d3d3f" textLength="15.70" lengthAdjust="spacingAndGlyphs" stroke="#3d3d3f" stroke-width="0.20">T</text>
<text x="526.40" y="69.40" font-size="19.20" fill="#3d3d3f" textLength="13.90" lengthAdjust="spacingAndGlyphs" stroke="#3d3d3f" stroke-width="0.20">E</text>
<text x="542.20" y="69.40" font-size="19.20" fill="#3d3d3f" textLength="17.50" lengthAdjust="spacingAndGlyphs" stroke="#3d3d3f" stroke-width="0.20">N</text>
<text x="559.80" y="69.40" font-size="19.20" fill="#3d3d3f" textLength="16.60" lengthAdjust="spacingAndGlyphs" stroke="#3d3d3f" stroke-width="0.20">T</text>
<text x="454.60" y="82.60" font-size="9.00" fill="#4a4a4a" textLength="115.20" lengthAdjust="spacing">INDUSTRIAL REAL ESTATE</text>
<text x="7.30" y="138.80" font-size="10.60" font-weight="bold" fill="#f4f4f4" textLength="104.60" lengthAdjust="spacingAndGlyphs" stroke="#f4f4f4" stroke-width="0.22">TOTAL BUILT-UP AREA</text>
<text x="6.80" y="165.00" font-size="10.30" font-weight="bold" fill="#f4f4f4" textLength="47.70" lengthAdjust="spacingAndGlyphs" stroke="#f4f4f4" stroke-width="0.22">Building A</text>
<text x="6.80" y="178.20" font-size="10.20" fill="#f4f4f4" textLength="86.40" lengthAdjust="spacingAndGlyphs" stroke="#f4f4f4" stroke-width="0.32">Administration part</text>
<text x="6.80" y="190.10" font-size="10.20" fill="#f4f4f4" textLength="80.70" lengthAdjust="spacingAndGlyphs" stroke="#f4f4f4" stroke-width="0.32">Car parking places</text>
<text x="6.80" y="202.00" font-size="10.20" fill="#f4f4f4" textLength="89.50" lengthAdjust="spacingAndGlyphs" stroke="#f4f4f4" stroke-width="0.32">Truck parking places</text>
<text x="6.80" y="213.80" font-size="10.20" fill="#f4f4f4" textLength="27.40" lengthAdjust="spacingAndGlyphs" stroke="#f4f4f4" stroke-width="0.32">Docks</text>
<text x="6.80" y="226.20" font-size="10.20" fill="#f4f4f4" textLength="40.10" lengthAdjust="spacingAndGlyphs" stroke="#f4f4f4" stroke-width="0.32">Drive-ins</text>
<text x="6.80" y="252.40" font-size="10.30" font-weight="bold" fill="#f4f4f4" textLength="47.70" lengthAdjust="spacingAndGlyphs" stroke="#f4f4f4" stroke-width="0.22">Building B</text>
<text x="6.80" y="265.10" font-size="10.20" fill="#f4f4f4" textLength="86.30" lengthAdjust="spacingAndGlyphs" stroke="#f4f4f4" stroke-width="0.32">Administration part</text>
<text x="6.80" y="276.90" font-size="10.20" fill="#f4f4f4" textLength="80.70" lengthAdjust="spacingAndGlyphs" stroke="#f4f4f4" stroke-width="0.32">Car parking places</text>
<text x="6.80" y="288.80" font-size="10.20" fill="#f4f4f4" textLength="27.40" lengthAdjust="spacingAndGlyphs" stroke="#f4f4f4" stroke-width="0.32">Docks</text>
<text x="6.80" y="301.00" font-size="10.20" fill="#f4f4f4" textLength="40.10" lengthAdjust="spacingAndGlyphs" stroke="#f4f4f4" stroke-width="0.32">Drive-ins</text>
<text x="6.80" y="327.70" font-size="10.60" font-weight="bold" fill="#f4f4f4" textLength="119.80" lengthAdjust="spacingAndGlyphs" stroke="#f4f4f4" stroke-width="0.22">SUSTAINABILITY TRENDS</text>
<text x="6.80" y="344.30" font-size="10.20" fill="#f4f4f4" textLength="53.80" lengthAdjust="spacingAndGlyphs" stroke="#f4f4f4" stroke-width="0.32">LED lighting</text>
<text x="6.80" y="355.70" font-size="10.20" fill="#f4f4f4" textLength="122.10" lengthAdjust="spacingAndGlyphs" stroke="#f4f4f4" stroke-width="0.32">BREEAM Very Good certified</text>
<text x="6.80" y="382.00" font-size="10.60" font-weight="bold" fill="#f4f4f4" textLength="61.50" lengthAdjust="spacingAndGlyphs" stroke="#f4f4f4" stroke-width="0.22">WAREHOUSE</text>
<text x="6.80" y="399.10" font-size="10.20" fill="#f4f4f4" textLength="54.60" lengthAdjust="spacingAndGlyphs" stroke="#f4f4f4" stroke-width="0.32">Column grid</text>
<text x="6.80" y="410.70" font-size="10.20" fill="#f4f4f4" textLength="107.80" lengthAdjust="spacingAndGlyphs" stroke="#f4f4f4" stroke-width="0.32">Light intensity in the hall</text>
<text x="6.80" y="422.40" font-size="10.20" fill="#f4f4f4" textLength="59.00" lengthAdjust="spacingAndGlyphs" stroke="#f4f4f4" stroke-width="0.32">Skylights min</text>
<text x="6.80" y="434.10" font-size="10.20" fill="#f4f4f4" textLength="57.90" lengthAdjust="spacingAndGlyphs" stroke="#f4f4f4" stroke-width="0.32">Floor loading</text>
<text x="6.80" y="461.40" font-size="10.60" font-weight="bold" fill="#f4f4f4" textLength="84.30" lengthAdjust="spacingAndGlyphs" stroke="#f4f4f4" stroke-width="0.22">OFFICE PREMISES</text>
<text x="6.80" y="478.00" font-size="10.20" fill="#f4f4f4" textLength="54.00" lengthAdjust="spacingAndGlyphs" stroke="#f4f4f4" stroke-width="0.32">Clear height</text>
<text x="6.80" y="490.10" font-size="10.20" fill="#f4f4f4" textLength="63.00" lengthAdjust="spacingAndGlyphs" stroke="#f4f4f4" stroke-width="0.32">Light intensity</text>
<text x="6.80" y="501.70" font-size="10.20" fill="#f4f4f4" textLength="52.80" lengthAdjust="spacingAndGlyphs" stroke="#f4f4f4" stroke-width="0.32">Build to suit</text>
<text x="6.80" y="527.90" font-size="10.60" font-weight="bold" fill="#f4f4f4" textLength="108.80" lengthAdjust="spacingAndGlyphs" stroke="#f4f4f4" stroke-width="0.22">BUILDING STANDARDS</text>
<text x="6.80" y="545.30" font-size="10.20" fill="#f4f4f4" textLength="54.00" lengthAdjust="spacingAndGlyphs" stroke="#f4f4f4" stroke-width="0.32">Clear height</text>
<text x="6.80" y="556.70" font-size="10.20" fill="#f4f4f4" textLength="63.50" lengthAdjust="spacingAndGlyphs" stroke="#f4f4f4" stroke-width="0.32">Loading docks</text>
<text x="6.80" y="569.00" font-size="10.20" fill="#f4f4f4" textLength="96.80" lengthAdjust="spacingAndGlyphs" stroke="#f4f4f4" stroke-width="0.32">Floor loading capacity</text>
<text x="25.40" y="588.70" font-size="10.20" fill="#f4f4f4" textLength="94.00" lengthAdjust="spacingAndGlyphs" stroke="#f4f4f4" stroke-width="0.32">ESFR sprinkler system</text>
<text x="25.40" y="600.10" font-size="10.20" fill="#f4f4f4" textLength="91.80" lengthAdjust="spacingAndGlyphs" stroke="#f4f4f4" stroke-width="0.32">Parking areas for cars</text>
<text x="25.40" y="612.30" font-size="10.20" fill="#f4f4f4" textLength="81.10" lengthAdjust="spacingAndGlyphs" stroke="#f4f4f4" stroke-width="0.32">Truck loading yard</text>
<text x="25.40" y="624.10" font-size="10.20" fill="#f4f4f4" textLength="185.90" lengthAdjust="spacingAndGlyphs" stroke="#f4f4f4" stroke-width="0.32">Office space with facilities according to the</text>
<text x="25.40" y="636.00" font-size="10.20" fill="#f4f4f4" textLength="88.60" lengthAdjust="spacingAndGlyphs" stroke="#f4f4f4" stroke-width="0.32">clients requirements</text>
<text x="172.70" y="138.80" font-size="10.60" font-weight="bold" fill="#f4f4f4" textLength="55.20" lengthAdjust="spacingAndGlyphs" stroke="#f4f4f4" stroke-width="0.22">38,029 sq m</text>
<text x="172.70" y="165.00" font-size="10.30" font-weight="bold" fill="#f4f4f4" textLength="55.20" lengthAdjust="spacingAndGlyphs" stroke="#f4f4f4" stroke-width="0.22">20,311 sq m</text>
<text x="172.70" y="178.20" font-size="10.20" fill="#f4f4f4" textLength="55.00" lengthAdjust="spacingAndGlyphs" stroke="#f4f4f4" stroke-width="0.32">2 x 306 sq m</text>
<text x="172.70" y="190.10" font-size="10.20" fill="#f4f4f4" textLength="17.00" lengthAdjust="spacingAndGlyphs" stroke="#f4f4f4" stroke-width="0.32">106</text>
<text x="172.70" y="202.00" font-size="10.20" fill="#f4f4f4" textLength="6.60" lengthAdjust="spacingAndGlyphs" stroke="#f4f4f4" stroke-width="0.32">4</text>
<text x="172.70" y="213.80" font-size="10.20" fill="#f4f4f4" textLength="11.10" lengthAdjust="spacingAndGlyphs" stroke="#f4f4f4" stroke-width="0.32">41</text>
<text x="172.70" y="226.20" font-size="10.20" fill="#f4f4f4" textLength="6.20" lengthAdjust="spacingAndGlyphs" stroke="#f4f4f4" stroke-width="0.32">3</text>
<text x="172.70" y="252.40" font-size="10.30" font-weight="bold" fill="#f4f4f4" textLength="55.20" lengthAdjust="spacingAndGlyphs" stroke="#f4f4f4" stroke-width="0.22">17,718 sq m</text>
<text x="172.70" y="265.10" font-size="10.20" fill="#f4f4f4" textLength="55.00" lengthAdjust="spacingAndGlyphs" stroke="#f4f4f4" stroke-width="0.32">2 x 606 sq m</text>
<text x="172.70" y="276.90" font-size="10.20" fill="#f4f4f4" textLength="11.40" lengthAdjust="spacingAndGlyphs" stroke="#f4f4f4" stroke-width="0.32">71</text>
<text x="172.70" y="288.80" font-size="10.20" fill="#f4f4f4" textLength="12.00" lengthAdjust="spacingAndGlyphs" stroke="#f4f4f4" stroke-width="0.32">28</text>
<text x="172.70" y="301.00" font-size="10.20" fill="#f4f4f4" textLength="6.40" lengthAdjust="spacingAndGlyphs" stroke="#f4f4f4" stroke-width="0.32">2</text>
<text x="172.70" y="399.10" font-size="10.20" fill="#f4f4f4" textLength="53.70" lengthAdjust="spacingAndGlyphs" stroke="#f4f4f4" stroke-width="0.32">12 m x 24 m</text>
<text x="172.70" y="410.70" font-size="10.20" fill="#f4f4f4" textLength="32.40" lengthAdjust="spacingAndGlyphs" stroke="#f4f4f4" stroke-width="0.32">200 lux</text>
<text x="172.70" y="422.40" font-size="10.20" fill="#f4f4f4" textLength="17.00" lengthAdjust="spacingAndGlyphs" stroke="#f4f4f4" stroke-width="0.32">2 %</text>
<text x="172.70" y="434.10" font-size="10.20" fill="#f4f4f4" textLength="36.10" lengthAdjust="spacingAndGlyphs" stroke="#f4f4f4" stroke-width="0.32">5 t/sq m</text>
<text x="172.70" y="478.00" font-size="10.20" fill="#f4f4f4" textLength="25.00" lengthAdjust="spacingAndGlyphs" stroke="#f4f4f4" stroke-width="0.32">2.7 m</text>
<text x="172.70" y="490.10" font-size="10.20" fill="#f4f4f4" textLength="32.40" lengthAdjust="spacingAndGlyphs" stroke="#f4f4f4" stroke-width="0.32">500 lux</text>
<text x="172.70" y="545.30" font-size="10.20" fill="#f4f4f4" textLength="30.20" lengthAdjust="spacingAndGlyphs" stroke="#f4f4f4" stroke-width="0.32">12.6 m</text>
<text x="172.70" y="556.70" font-size="10.20" fill="#f4f4f4" textLength="56.70" lengthAdjust="spacingAndGlyphs" stroke="#f4f4f4" stroke-width="0.32">1/1 000 sq m</text>
<text x="172.70" y="569.00" font-size="10.20" fill="#f4f4f4" textLength="36.10" lengthAdjust="spacingAndGlyphs" stroke="#f4f4f4" stroke-width="0.32">5 t/sq m</text>
<circle cx="8.2" cy="584.5" r="1.5" fill="#f4f4f4"/>
<circle cx="8.2" cy="595.9" r="1.5" fill="#f4f4f4"/>
<circle cx="8.2" cy="608.1" r="1.5" fill="#f4f4f4"/>
<circle cx="8.2" cy="619.9" r="1.5" fill="#f4f4f4"/>
</svg></body></html>
